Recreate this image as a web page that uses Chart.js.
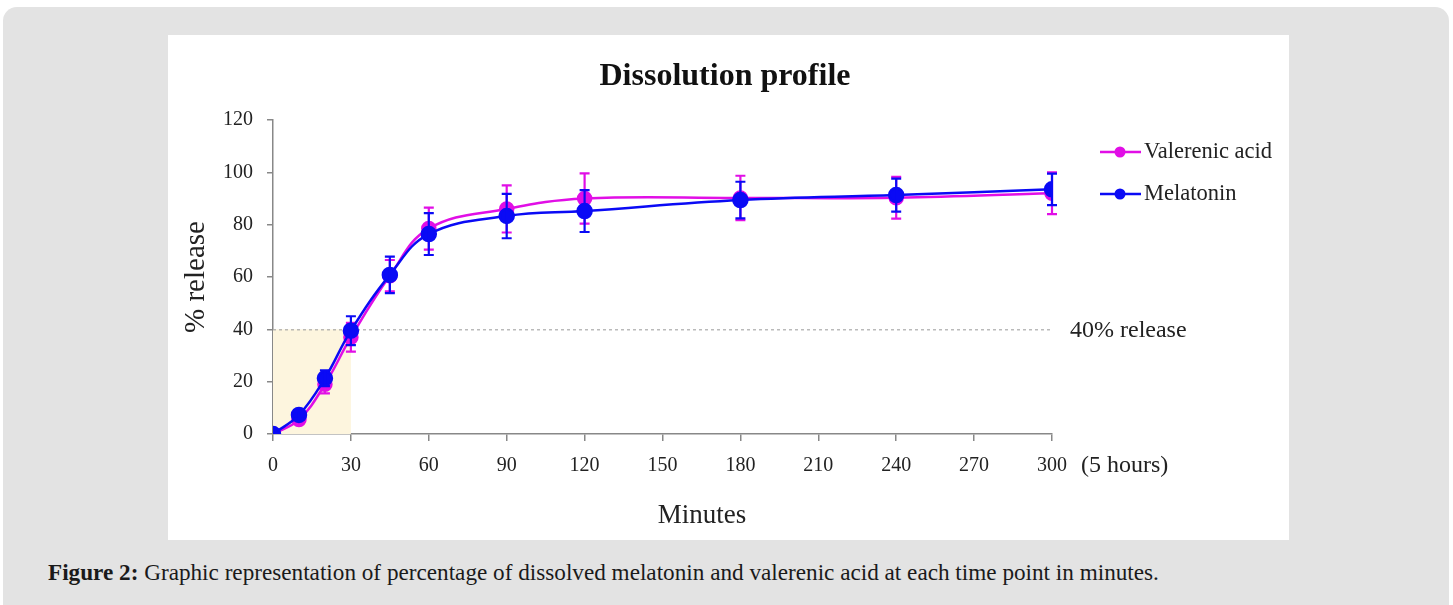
<!DOCTYPE html>
<html>
<head>
<meta charset="utf-8">
<script src="https://cdn.jsdelivr.net/npm/chart.js@4/dist/chart.umd.min.js"></script>
<style>
  body { margin: 0; background: #fff; width: 1453px; height: 605px; overflow: hidden; position: relative; }
  #panel { position: absolute; left: 3px; top: 7px; width: 1446px; height: 620px; background: #e3e3e3; border-radius: 14px; }
  #box { position: absolute; left: 168px; top: 35px; width: 1121px; height: 505px; background: #fff; }
  #caption { position: absolute; left: 48px; top: 559px; font-family: "Liberation Serif", serif; font-size: 23.2px; color: #1a1a1a; white-space: nowrap; }
</style>
</head>
<body>
<div id="panel"></div>
<div id="box"><canvas id="dissolutionChart" width="1121" height="505"></canvas></div>
<div id="caption"><b>Figure 2:</b> Graphic representation of percentage of dissolved melatonin and valerenic acid at each time point in minutes.</div>
<script>
// ---------- Data ----------
const minutes = [0, 10, 20, 30, 45, 60, 90, 120, 180, 240, 300];
const valerenic = [0, 5.5, 19, 37, 60.5, 78.5, 86, 90, 90.2, 90.3, 92];
const valerenicErr = [0, 1.5, 3.5, 5.5, 6, 8, 9, 9.6, 8.5, 8, 8];
const melatonin = [0, 7.3, 21.3, 39.5, 60.8, 76.4, 83.3, 85.2, 89.4, 91.3, 93.5];
const melatoninErr = [0, 1.5, 3, 5.5, 7, 8, 8.5, 8, 7, 6.3, 6];
const releaseMark = 40;     // % release reference line
const releaseTime = 30;     // minutes

const MAGENTA = '#e10ee6';
const BLUE = '#0a0af5';
const FONT = '"Liberation Serif", "Times New Roman", serif';

function toPoints(ys) {
  return minutes.map((m, i) => ({ x: m, y: ys[i] }));
}

// shaded box and dashed 40% line, drawn behind the curves
const backdrop = {
  id: 'backdrop',
  beforeDatasetsDraw(chart) {
    const { ctx, scales: { x, y } } = chart;
    ctx.save();
    ctx.fillStyle = '#fdf5de';
    const x0 = x.getPixelForValue(0), x1 = x.getPixelForValue(releaseTime);
    const y0 = y.getPixelForValue(0), y1 = y.getPixelForValue(releaseMark);
    ctx.fillRect(x0, y1, x1 - x0, y0 - y1);
    ctx.strokeStyle = '#999';
    ctx.lineWidth = 1;
    ctx.setLineDash([3, 3]);
    ctx.beginPath();
    ctx.moveTo(x0, y1 + 0.5);
    ctx.lineTo(x.getPixelForValue(300), y1 + 0.5);
    ctx.stroke();
    ctx.restore();
  }
};

// error bars for each dataset, right after that dataset is drawn
const errorBars = {
  id: 'errorBars',
  afterDatasetDraw(chart, args) {
    const ds = chart.data.datasets[args.index];
    const errs = ds.errors;
    if (!errs) return;
    const { ctx, scales: { y } } = chart;
    ctx.save();
    ctx.strokeStyle = ds.borderColor;
    ctx.lineWidth = 2.2;
    args.meta.data.forEach((pt, i) => {
      if (!errs[i]) return;
      const v = ds.data[i].y;
      const top = y.getPixelForValue(v + errs[i]);
      const bot = y.getPixelForValue(v - errs[i]);
      ctx.beginPath();
      ctx.moveTo(pt.x, top); ctx.lineTo(pt.x, bot);
      ctx.moveTo(pt.x - 5, top); ctx.lineTo(pt.x + 5, top);
      ctx.moveTo(pt.x - 5, bot); ctx.lineTo(pt.x + 5, bot);
      ctx.stroke();
    });
    ctx.restore();
  }
};

// title, legend, axis title and side notes
const annotations = {
  id: 'annotations',
  afterDraw(chart) {
    const { ctx, chartArea, scales: { y } } = chart;
    ctx.save();
    ctx.fillStyle = '#111';
    ctx.textBaseline = 'middle';
    ctx.textAlign = 'center';
    ctx.font = 'bold 32px ' + FONT;
    ctx.fillText('Dissolution profile', 557, 42);
    ctx.fillStyle = '#222';
    ctx.font = '27px ' + FONT;
    ctx.fillText('Minutes', 534, 481);
    ctx.textAlign = 'left';
    ctx.font = '24px ' + FONT;
    ctx.fillText('40% release', chartArea.right + 18, y.getPixelForValue(releaseMark) + 1);
    ctx.fillText('(5 hours)', chartArea.right + 29, 431);

    chart.data.datasets.forEach((ds, i) => {
      const ly = 117 + i * 42;
      ctx.strokeStyle = ds.borderColor;
      ctx.fillStyle = ds.borderColor;
      ctx.lineWidth = 2.5;
      ctx.beginPath();
      ctx.moveTo(932, ly); ctx.lineTo(973, ly);
      ctx.stroke();
      ctx.beginPath();
      ctx.arc(952, ly, 5.5, 0, Math.PI * 2);
      ctx.fill();
      ctx.fillStyle = '#222';
      ctx.font = '22.5px ' + FONT;
      ctx.fillText(ds.label, 976, ly);
    });
    ctx.restore();
  }
};

const ctx = document.getElementById('dissolutionChart').getContext('2d');
new Chart(ctx, {
  type: 'line',
  data: {
    datasets: [{
      label: 'Valerenic acid',
      data: toPoints(valerenic),
      errors: valerenicErr,
      borderColor: MAGENTA,
      backgroundColor: MAGENTA,
      borderWidth: 2.5,
      pointRadius: 6.5,
      tension: 0.4,
      order: 1
    }, {
      label: 'Melatonin',
      data: toPoints(melatonin),
      errors: melatoninErr,
      borderColor: BLUE,
      backgroundColor: BLUE,
      borderWidth: 2.5,
      pointRadius: 7,
      tension: 0.4,
      order: 0
    }]
  },
  plugins: [backdrop, errorBars, annotations],
  options: {
    responsive: false,
    animation: false,
    layout: { padding: { left: 0, right: 237, top: 85, bottom: 0 } },
    plugins: {
      legend: { display: false },
      tooltip: { enabled: false },
      title: { display: false }
    },
    scales: {
      x: {
        type: 'linear',
        min: 0,
        max: 300,
        afterFit(scale) { scale.height = 106; },
        border: { color: '#888', width: 1.5 },
        grid: { drawOnChartArea: false, color: '#888', tickLength: 7, lineWidth: 1.5 },
        ticks: { stepSize: 30, padding: 13, color: '#222', font: { family: FONT, size: 20 } }
      },
      y: {
        min: 0,
        max: 120,
        afterFit(scale) { scale.width = 105; },
        border: { color: '#888', width: 1.5 },
        grid: { drawOnChartArea: false, color: '#888', tickLength: 6, lineWidth: 1.5 },
        ticks: { stepSize: 20, padding: 14, color: '#222', font: { family: FONT, size: 20 } },
        title: {
          display: true,
          text: '% release',
          color: '#222',
          font: { family: FONT, size: 29 },
          padding: { top: 11 }
        }
      }
    }
  }
});
</script>
</body>
</html>
